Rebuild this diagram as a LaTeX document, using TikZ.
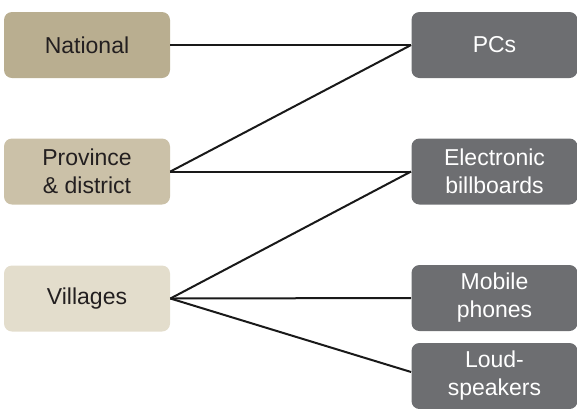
\documentclass[tikz,border=0pt]{standalone}
\usepackage{fontspec}
\setmainfont{Liberation Sans}
\definecolor{natcol}{HTML}{B9AE90}
\definecolor{provcol}{HTML}{CBC1A8}
\definecolor{vilcol}{HTML}{E3DDCC}
\definecolor{medcol}{HTML}{6D6E71}
\definecolor{txtdark}{HTML}{231F20}
\tikzset{
  level/.style={rounded corners=4pt, minimum width=83pt, minimum height=33pt,
    align=center, text=txtdark, font=\fontsize{11.5}{14}\selectfont, inner sep=0pt},
  medium/.style={level, fill=medcol, text=white},
  link/.style={line width=1pt, black!90}
}

\begin{document}
\begin{tikzpicture}[x=0.5pt,y=-0.5pt]
  \useasboundingbox (0,0) rectangle (577,408);
  % levels
  \node[level,fill=natcol]  (nat)  at ( 87, 45.0) {National};
  \node[level,fill=provcol] (prov) at ( 87,171.5) {Province\\\& district};
  \node[level,fill=vilcol]  (vil)  at ( 87,298.5) {Villages};
  % media
  \node[medium] (pc)   at (494.5, 45.0) {PCs};
  \node[medium] (bill) at (494.5,171.5) {Electronic\\billboards};
  \node[medium] (mob)  at (494.5,298.0) {Mobile\\phones};
  \node[medium] (loud) at (494.5,376.0) {Loud-\\speakers};
  % links
  \draw[link] (nat.east)  -- (pc.west);
  \draw[link] (prov.east) -- (pc.west);
  \draw[link] (prov.east) -- (bill.west);
  \draw[link] (vil.east)  -- (bill.west);
  \draw[link] (vil.east)  -- (mob.west);
  \draw[link] (vil.east)  -- ([yshift=2pt]loud.west);
\end{tikzpicture}
\end{document}
